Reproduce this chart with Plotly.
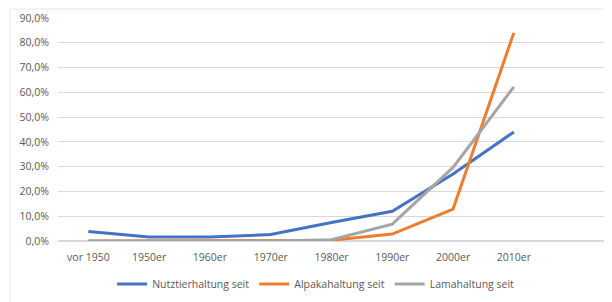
import plotly.graph_objects as go

categories = ["vor 1950", "1950er", "1960er", "1970er", "1980er", "1990er", "2000er", "2010er"]
nutztier = [0.038, 0.016, 0.016, 0.026, 0.075, 0.12, 0.27, 0.44]
alpaka = [0.0, 0.0, 0.0, 0.0, 0.003, 0.028, 0.129, 0.84]
lama = [0.0, 0.0, 0.0, 0.0, 0.005, 0.068, 0.297, 0.622]
names = ["Nutztierhaltung seit", "Alpakahaltung seit", "Lamahaltung seit"]
colors = ["#4472C4", "#ED7D31", "#A5A5A5"]
yticks = [0, 0.1, 0.2, 0.3, 0.4, 0.5, 0.6, 0.7, 0.8, 0.9]

fig = go.Figure()
for name, vals, col in zip(names, [nutztier, alpaka, lama], colors):
    fig.add_trace(go.Scatter(x=categories, y=vals, name=name, mode="lines",
                             line=dict(color=col, width=3)))
fig.add_trace(go.Scatter(x=[" "], y=[None], showlegend=False, hoverinfo="skip"))

fig.update_layout(
    width=604, height=294,
    margin=dict(l=50, r=7, t=10, b=61, autoexpand=False),
    paper_bgcolor="white", plot_bgcolor="white",
    separators=",.",
    font=dict(family="Open Sans, sans-serif", size=10.5, color="#595959"),
    xaxis=dict(type="category", categoryarray=categories + [" "], categoryorder="array",
               range=[-0.5, 8.5], showgrid=False, showline=False, ticks="",
               ticklabelstandoff=8, automargin=False,
               tickfont=dict(size=10.5, color="#595959")),
    yaxis=dict(range=[0, 0.9], tickvals=yticks, tickformat=".1%", showgrid=True,
               gridcolor="#D9D9D9", gridwidth=1, zeroline=True, zerolinecolor="#D9D9D9",
               showline=False, ticks="", ticklabelstandoff=8, automargin=False,
               tickfont=dict(size=10.5, color="#595959")),
    legend=dict(orientation="h", x=0.471, xanchor="center", y=-0.128, yanchor="top",
                font=dict(size=10.5, color="#595959"), itemwidth=30),
    shapes=[
        dict(type="line", xref="paper", yref="paper", x0=-48/547, x1=-48/547,
             y0=-61/223, y1=1 + 9/223, line=dict(color="#E6E6E6", width=1)),
        dict(type="line", xref="paper", yref="paper", x0=-48/547, x1=1 + 7/547,
             y0=1 + 9/223, y1=1 + 9/223, line=dict(color="#E6E6E6", width=1)),
    ],
)
fig.write_html("out.html")
